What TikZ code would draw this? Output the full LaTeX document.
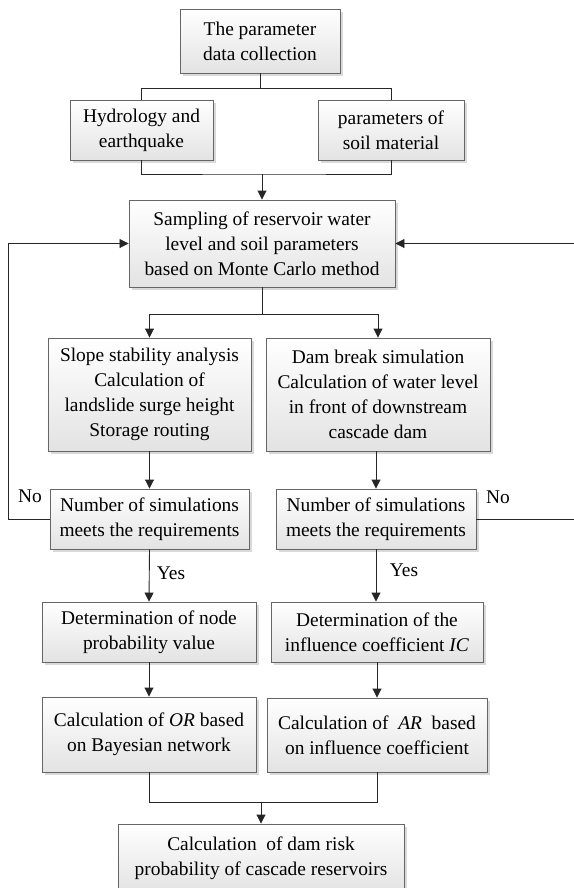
\documentclass[tikz,border=0pt]{standalone}
\usepackage{fontspec}
\setmainfont{Liberation Serif}
\usetikzlibrary{arrows.meta,shadows}
\begin{document}
\begin{tikzpicture}[x=1bp,y=-1bp,
 box/.style={draw=black!60,line width=0.9bp,top color=white,bottom color=black!11,
   inner sep=0pt,align=center,font=\fontsize{19.4bp}{25bp}\selectfont,
   drop shadow={shadow xshift=3bp,shadow yshift=-3bp,fill=black!25,opacity=0.6}},
 arr/.style={-{Triangle[length=9bp,width=9bp]}},
 conn/.style={line width=0.9bp,black!85},
 lbl/.style={font=\fontsize{19.4bp}{25bp}\selectfont,inner sep=0pt}]
\useasboundingbox (0,0) rectangle (574,888);
\clip (0,0) rectangle (574,888);
% boxes
\node[box,minimum width=160bp,minimum height=64bp] (b1) at (260,41) {The parameter\\data collection};
\node[box,minimum width=143bp,minimum height=60bp] (b2) at (141.5,130) {Hydrology and\\earthquake};
\node[box,minimum width=146bp,minimum height=60bp] (b3) at (391,130) {parameters of\\soil material};
\node[box,minimum width=266bp,minimum height=87bp] (b4) at (262,243.5) {Sampling of reservoir water\\level and soil parameters\\based on Monte Carlo method};
\node[box,minimum width=203bp,minimum height=113bp] (b5) at (149.5,394.5) {Slope stability analysis\\Calculation of\\landslide surge height\\Storage routing};
\node[box,minimum width=224bp,minimum height=113bp] (b6) at (378,394.5) {Dam break simulation\\Calculation of water level\\in front of downstream\\cascade dam};
\node[box,minimum width=199bp,minimum height=60bp] (b7) at (149.5,519) {Number of simulations\\meets the requirements};
\node[box,minimum width=200bp,minimum height=60bp] (b8) at (376,519) {Number of simulations\\meets the requirements};
\node[box,minimum width=214bp,minimum height=60bp] (b9) at (149,632) {Determination of node\\probability value};
\node[box,minimum width=212bp,minimum height=60bp] (b10) at (377,632) {Determination of the\\influence coefficient \textit{IC}};
\node[box,minimum width=214bp,minimum height=75bp] (b11) at (149,734.5) {Calculation of \textit{OR} based\\on Bayesian network};
\node[box,minimum width=220bp,minimum height=74bp] (b12) at (377,735) {Calculation of~ \textit{AR}~ based\\on influence coefficient};
\node[box,minimum width=286bp,minimum height=68bp] (b13) at (261,858) {Calculation~ of dam risk\\probability of cascade reservoirs};
% junctions
\coordinate (j1) at (260,88);
\coordinate (j2) at (262,174);
\coordinate (j3) at (262,314);
\coordinate (j4) at (261,802);
\coordinate (lx) at (8,0);
\coordinate (rx) at (576,0);
% connectors
\draw[conn] (b1.south) -- (j1);
\draw[conn] (j1) -| (b2.north);
\draw[conn] (j1) -| (b3.north);
\draw[conn] (b2.south) |- (j2) -| (b3.south);
\draw[conn,arr] (j2) -- (b4.north);
\draw[conn] (b4.south) -- (j3);
\draw[conn,arr] (j3) -| (b5.north);
\draw[conn,arr] (j3) -| (b6.north);
\draw[conn,arr] (b5.south) -- (b7.north);
\draw[conn,arr] (b8.north |- b6.south) -- (b8.north);
\draw[conn,arr] (b7.west) -- (lx |- b7.west) |- (b4.west);
\draw[conn,arr] (b8.east) -- (rx |- b8.east) |- (b4.east);
\draw[conn,arr] (b7.south) -- (b9.north);
\draw[conn,arr] (b8.south) -- (b8.south |- b10.north);
\draw[conn,arr] (b9.south) -- (b11.north);
\draw[conn,arr] (b10.south) -- (b12.north);
\draw[conn] (b11.south) |- (j4) -| (b12.south);
\draw[conn,arr] (j4) -- (b13.north);
% labels
\node[lbl] (no1) at (30,496) {No};
\node[lbl] (no2) at (498,497) {No};
\node[lbl] (yes1) at (171,573) {Yes};
\node[lbl] (yes2) at (404,570) {Yes};
\end{tikzpicture}
\end{document}
